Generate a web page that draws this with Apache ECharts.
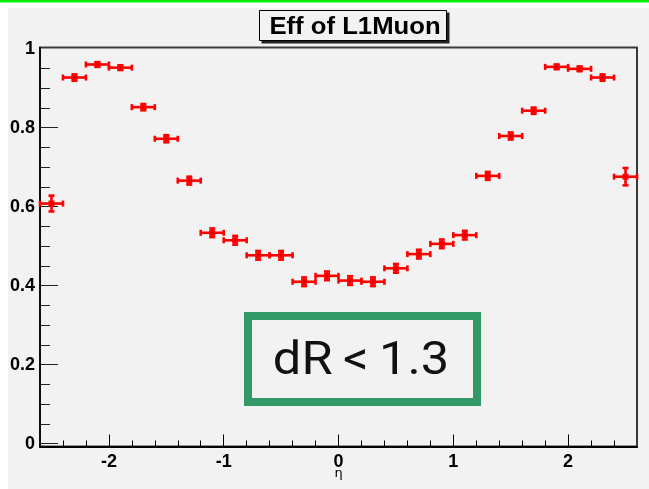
<!DOCTYPE html>
<html>
<head>
<meta charset="utf-8">
<script src="https://cdn.jsdelivr.net/npm/echarts@6/dist/echarts.min.js"></script>
<style>html,body{margin:0;padding:0;background:#fff}#c{width:649px;height:489px}</style>
</head>
<body>
<div id="c"></div>
<script>
// ---- data ----
const eta = [-2.5,-2.3,-2.1,-1.9,-1.7,-1.5,-1.3,-1.1,-0.9,-0.7,-0.5,-0.3,-0.1,0.1,0.3,0.5,0.7,0.9,1.1,1.3,1.5,1.7,1.9,2.1,2.3,2.5];
const eff = [0.608,0.927,0.960,0.952,0.852,0.772,0.666,0.534,0.515,0.477,0.477,0.410,0.425,0.413,0.410,0.444,0.480,0.506,0.528,0.678,0.779,0.843,0.954,0.949,0.927,0.676];
const effErr = [0.020,0.008,0.006,0.006,0.008,0.009,0.010,0.011,0.011,0.011,0.011,0.011,0.011,0.011,0.011,0.011,0.011,0.011,0.011,0.010,0.009,0.008,0.006,0.006,0.008,0.022];
const binHalfWidth = 0.1;
const xMajorTicks = [-2,-1,0,1,2];
const xMinorTicks = [-2.4,-2.2,-1.8,-1.6,-1.4,-1.2,-0.8,-0.6,-0.4,-0.2,0.2,0.4,0.6,0.8,1.2,1.4,1.6,1.8,2.2,2.4];
const yMajorTicks = [0,0.2,0.4,0.6,0.8];
const yLabels = [0,0.2,0.4,0.6,0.8,1];
const yMinorTicks = [0.05,0.1,0.15,0.25,0.3,0.35,0.45,0.5,0.55,0.65,0.7,0.75,0.85,0.9,0.95];
const titleText = 'Eff of L1Muon';
const xName = 'η';
const noteText = 'dR\u2009<\u20091.3';

const chart = echarts.init(document.getElementById('c'), null, {renderer:'canvas'});
const seriesData = eta.map((x,i)=>[x, eff[i], effErr[i]]);
const lblFont = {fontFamily:'Liberation Sans', fontWeight:'bold', fontSize:18, color:'#000'};

const option = {
  backgroundColor:'#f2f2f2',
  animation:false,
  grid:{left:40, right:12, top:47.5, bottom:42.5, containLabel:false, outerBoundsMode:'none',
        show:true, borderColor:'#3a3a3a', borderWidth:2, backgroundColor:'transparent'},
  xAxis:[
    {type:'value', min:-2.6, max:2.6, position:'bottom',
     axisLine:{show:true, onZero:false, lineStyle:{color:'#000', width:2}},
     axisTick:{show:true, inside:true, length:12, customValues:xMajorTicks, lineStyle:{color:'#000', width:1}},
     axisLabel:{show:true, customValues:xMajorTicks, margin:7, ...lblFont},
     splitLine:{show:false},
     name:xName, nameLocation:'middle', nameGap:21, nameMoveOverlap:false,
     nameTextStyle:{fontFamily:'DejaVu Sans', fontSize:13, color:'#000'}},
    {type:'value', min:-2.6, max:2.6, position:'bottom',
     axisLine:{show:false, onZero:false},
     axisTick:{show:true, inside:true, length:6, customValues:xMinorTicks, lineStyle:{color:'#000', width:1}},
     axisLabel:{show:false}, splitLine:{show:false}}
  ],
  yAxis:[
    {type:'value', min:-0.007, max:1.003, position:'left',
     axisLine:{show:true, onZero:false, lineStyle:{color:'#000', width:1.5}},
     axisTick:{show:true, inside:true, length:18, customValues:yMajorTicks, lineStyle:{color:'#222', width:1}},
     axisLabel:{show:true, customValues:yLabels, margin:5, ...lblFont},
     splitLine:{show:false}},
    {type:'value', min:-0.007, max:1.003, position:'left',
     axisLine:{show:false, onZero:false},
     axisTick:{show:true, inside:true, length:10, customValues:yMinorTicks, lineStyle:{color:'#222', width:1}},
     axisLabel:{show:false}, splitLine:{show:false}}
  ],
  series:[{
    type:'custom', xAxisIndex:0, yAxisIndex:0, clip:false,
    data:seriesData,
    renderItem:function(params, api){
      const x = api.value(0), y = api.value(1), e = api.value(2);
      const pL = api.coord([x-binHalfWidth, y]);
      const pR = api.coord([x+binHalfWidth, y]);
      const pT = api.coord([x, y+e]);
      const pB = api.coord([x, y-e]);
      const pc = api.coord([x, y]);
      const st = {stroke:'#ff0000', lineWidth:2.6};
      const c = 3;
      return {type:'group', children:[
        {type:'line', shape:{x1:pL[0], y1:pL[1], x2:pR[0], y2:pR[1]}, style:st},
        {type:'line', shape:{x1:pT[0], y1:pT[1], x2:pB[0], y2:pB[1]}, style:st},
        {type:'line', shape:{x1:pL[0], y1:pL[1]-c, x2:pL[0], y2:pL[1]+c}, style:st},
        {type:'line', shape:{x1:pR[0], y1:pR[1]-c, x2:pR[0], y2:pR[1]+c}, style:st},
        {type:'line', shape:{x1:pT[0]-c, y1:pT[1], x2:pT[0]+c, y2:pT[1]}, style:st},
        {type:'line', shape:{x1:pB[0]-c, y1:pB[1], x2:pB[0]+c, y2:pB[1]}, style:st},
        {type:'rect', shape:{x:pc[0]-3, y:pc[1]-3, width:6, height:6}, style:{fill:'#ff0000'}},
        {type:'rect', shape:{x:pc[0]-0.5, y:pc[1]-0.5, width:1, height:1}, style:{fill:'#400000'}}
      ]};
    }
  }],
  graphic:[
    {type:'rect', shape:{x:0, y:0, width:8, height:489}, style:{fill:'#ffffff'}, silent:true},
    {type:'rect', shape:{x:0, y:0, width:649, height:8}, style:{fill:'#ffffff'}, silent:true},
    {type:'rect', shape:{x:0, y:0, width:649, height:2.5}, style:{fill:'#00ee00'}, silent:true},
    // title box shadow + box
    {type:'rect', shape:{x:261.5, y:12.5, width:188, height:31}, style:{fill:'#222'}, silent:true},
    {type:'rect', shape:{x:259.5, y:10.5, width:187, height:30}, style:{fill:'#f2f2f2', stroke:'#000', lineWidth:1}, silent:true},
    {type:'text', x:355, y:27, scaleX:1.07, style:{text:titleText, fontFamily:'Liberation Sans', fontWeight:'bold', fontSize:24, fill:'#000', align:'center', verticalAlign:'middle'}, silent:true},
    // note box
    {type:'rect', shape:{x:248, y:316, width:229, height:86}, style:{fill:'transparent', stroke:'#339966', lineWidth:8}, silent:true, z:10},
    {type:'text', x:361, y:362, scaleX:1.1, style:{text:noteText, fontFamily:'Roboto', fontSize:46, fill:'#111', align:'center', verticalAlign:'middle'}, silent:true, z:10}
  ]
};
chart.setOption(option);
</script>
</body>
</html>
